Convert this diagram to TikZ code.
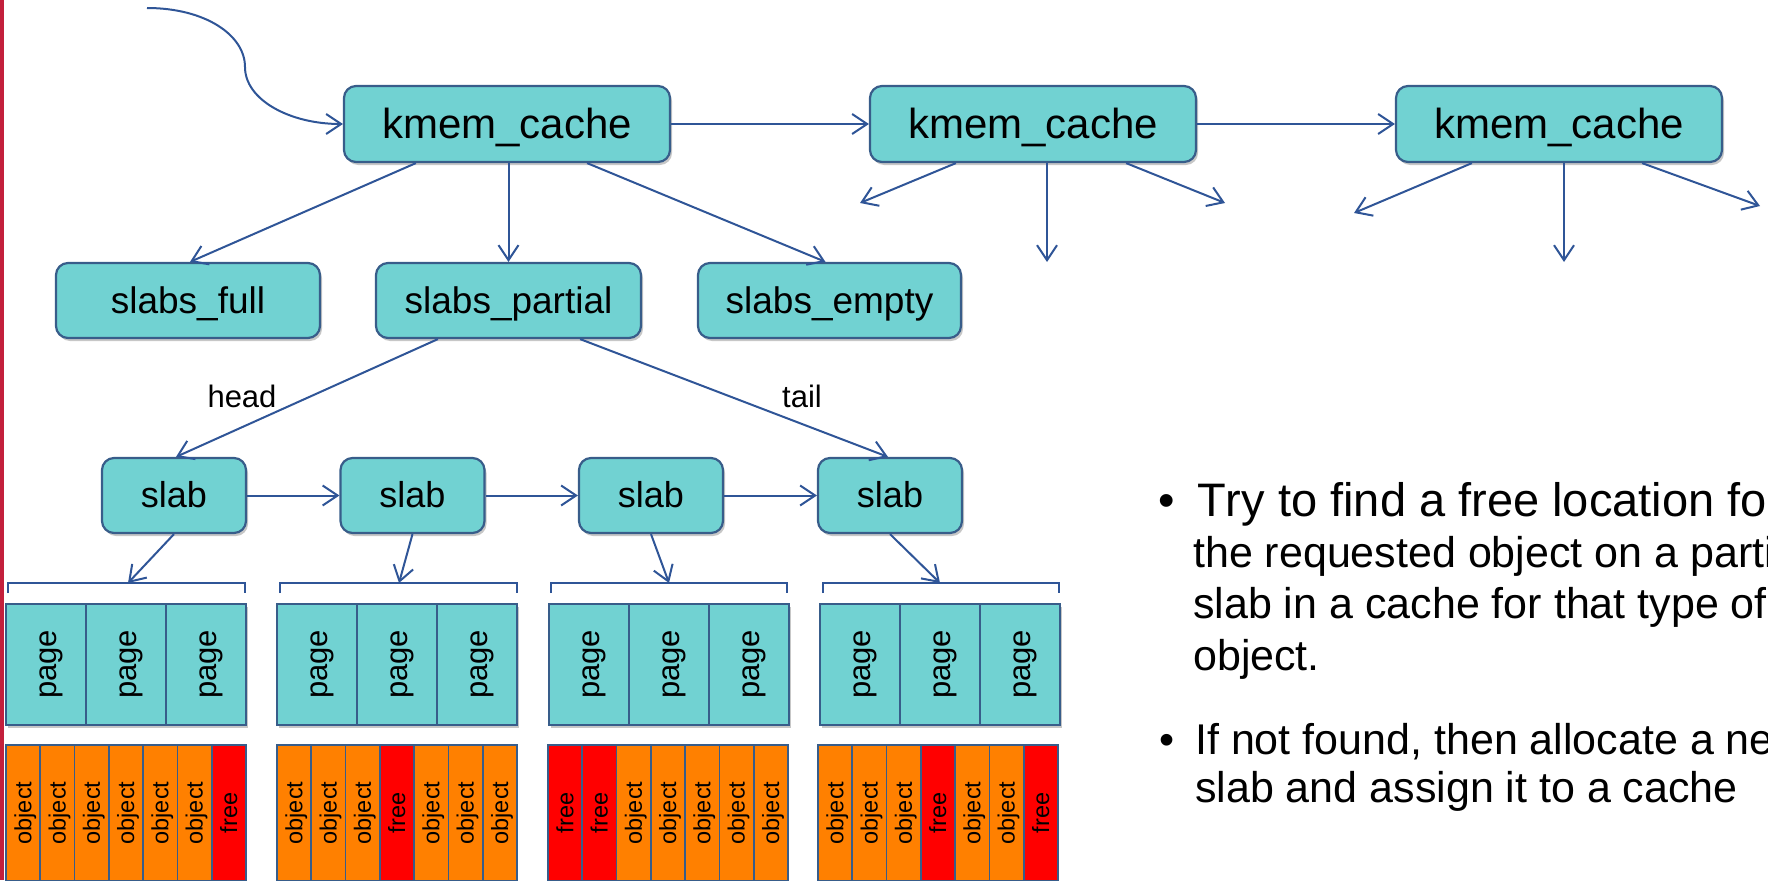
\documentclass[tikz,border=0pt]{standalone}
\usepackage{fontspec}
\setmainfont[Kerning=Off]{Liberation Sans}
\usepackage{graphicx}
\usetikzlibrary{arrows.meta,shadows,calc}
\definecolor{tealc}{HTML}{71D2D2}
\definecolor{bordc}{HTML}{385D8A}
\definecolor{linec}{HTML}{2F5597}
\definecolor{objc}{HTML}{FF8000}
\definecolor{freec}{HTML}{FF0000}
\definecolor{edgec}{HTML}{C3203C}
\newcommand\pstrut{\rule[-.212em]{0pt}{1.117em}}
\newcommand\fs[1]{\fontsize{#1}{#1}\selectfont}
\begin{document}
\begin{tikzpicture}[x=1pt,y=-1pt,
  shd/.style={drop shadow={shadow xshift=2pt,shadow yshift=-3pt,opacity=.22,fill=black}},
  box/.style={draw=bordc,line width=2.2pt,fill=tealc,rounded corners=12pt,inner sep=0pt,shd},
  kbox/.style={box,minimum width=326pt,minimum height=76pt,font=\fs{42}},
  lbox/.style={box,minimum height=75pt,font=\fs{37}},
  slabbox/.style={box,minimum width=144pt,minimum height=75pt,font=\fs{36}},
  pagecell/.style={draw=bordc,line width=2pt,fill=tealc,minimum width=80pt,minimum height=121pt,inner sep=0pt,font=\fs{31},shd},
  objcell/.style={draw=bordc,line width=1.8pt,fill=objc,minimum width=34.29pt,minimum height=136pt,inner sep=0pt,font=\fs{23.5}},
  freecell/.style={objcell,fill=freec},
  conn/.style={draw=linec,line width=2pt,-{Straight Barb[length=15pt,width=20pt]}},
  brk/.style={draw=linec,line width=1.6pt},
  lbl/.style={font=\fs{31},inner sep=0pt},
  btxt/.style={anchor=base west,inner sep=0pt},
]
\useasboundingbox (0,0) rectangle (1768,880);
\begin{scope}
\clip (0,0) rectangle (1768,880);
\fill[edgec] (0,0) rectangle (4,880);

% caches
\node[kbox] (k1) at (507,124) {\pstrut kmem\_cache};
\node[kbox] (k2) at (1033,124) {\pstrut kmem\_cache};
\node[kbox] (k3) at (1559,124) {\pstrut kmem\_cache};

% lists
\node[lbox,minimum width=264pt] (sfull) at (188,300.5) {\pstrut slabs\_full};
\node[lbox,minimum width=265pt] (spart) at (508.5,300.5) {\pstrut slabs\_partial};
\node[lbox,minimum width=263pt] (sempty) at (829.5,300.5) {\pstrut slabs\_empty};

% slabs
\node[slabbox] (s1) at (174,495.5) {\pstrut slab};
\node[slabbox] (s2) at (412.5,495.5) {\pstrut slab};
\node[slabbox] (s3) at (651,495.5) {\pstrut slab};
\node[slabbox] (s4) at (890,495.5) {\pstrut slab};

% incoming curve
\coordinate (cin) at (147,8);
\coordinate (cmid) at (245,67);
\draw[conn] (cin) .. controls (205,8) and (245,35) .. (cmid) .. controls (245,100) and (290,124) .. (k1.west);

\draw[conn] (k1.east) -- (k2.west);
\draw[conn] (k2.east) -- (k3.west);

\draw[conn] ([xshift=73pt]k1.south west) -- ([xshift=2pt]sfull.north);
\draw[conn] (k1.south -| spart.north) -- (spart.north);
\draw[conn] ([xshift=-84pt]k1.south east) -- ([xshift=-4pt]sempty.north);

\coordinate (k2a) at (860,203);
\coordinate (k2b) at (1047,262);
\coordinate (k2c) at (1225,203);
\draw[conn] ([xshift=87pt]k2.south west) -- (k2a);
\draw[conn] ([xshift=14pt]k2.south) -- (k2b);
\draw[conn] ([xshift=-71pt]k2.south east) -- (k2c);

\coordinate (k3a) at (1354,213);
\coordinate (k3b) at (1564,262);
\coordinate (k3c) at (1760,206);
\draw[conn] ([xshift=77pt]k3.south west) -- (k3a);
\draw[conn] ([xshift=5pt]k3.south) -- (k3b);
\draw[conn] ([xshift=-81pt]k3.south east) -- (k3c);

% head / tail
\draw[conn] ([xshift=63pt]spart.south west) -- ([xshift=2pt]s1.north);
\draw[conn] ([xshift=-62pt]spart.south east) -- ([xshift=-2pt]s4.north);
\node[lbl] (head) at (242,397) {\pstrut head};
\node[lbl] (tail) at (802,397) {\pstrut tail};

\draw[conn] (s1.east) -- (s2.west);
\draw[conn] (s2.east) -- (s3.west);
\draw[conn] (s3.east) -- (s4.west);

% brackets
\draw[brk] (8,593) -- (8,583) -- (245,583) -- (245,593);
\draw[brk] (280,593) -- (280,583) -- (517,583) -- (517,593);
\draw[brk] (551,593) -- (551,583) -- (787,583) -- (787,593);
\draw[brk] (823,593) -- (823,583) -- (1059,583) -- (1059,593);
\coordinate (b1) at (128,583);
\coordinate (b2) at (399,583);
\coordinate (b3) at (669,583);
\coordinate (b4) at (940,583);
\draw[conn] (s1.south) -- (b1);
\draw[conn] (s2.south) -- (b2);
\draw[conn] (s3.south) -- (b3);
\draw[conn] (s4.south) -- (b4);

% pages
\foreach \g/\gx in {1/6,2/277,3/549,4/820}{
  \foreach \i in {0,1,2}{
    \node[pagecell] (p\g\i) at (\gx+40+80*\i,664.5) {\rotatebox{90}{\pstrut page}};
  }
}

% objects
\foreach \g/\gx/\pat in {1/6/{0,0,0,0,0,0,1},2/277/{0,0,0,1,0,0,0},3/548/{1,1,0,0,0,0,0},4/818/{0,0,0,1,0,0,1}}{
  \foreach \c [count=\i from 0] in \pat {
    \ifnum\c=1
      \node[freecell] (o\g\i) at (\gx+17.14+34.29*\i,813) {\rotatebox{90}{\pstrut free}};
    \else
      \node[objcell] (o\g\i) at (\gx+17.14+34.29*\i,813) {\rotatebox{90}{\pstrut object}};
    \fi
  }
}

% bullet text
\node[btxt,font=\fs{47}] (d1) at (1158,516) {•};
\node[btxt,font=\fs{47}] (t11) at (1197,516) {Try to find a free location for};
\node[btxt,font=\fs{43}] (t12) at (1193,567.5) {the requested object on a partial};
\node[btxt,font=\fs{43}] (t13) at (1193,618.5) {slab in a cache for that type of};
\node[btxt,font=\fs{43}] (t14) at (1193,670) {object.};
\node[btxt,font=\fs{43}] (d2) at (1159,754) {•};
\node[btxt,font=\fs{43}] (t21) at (1195,754) {If not found, then allocate a new};
\node[btxt,font=\fs{43}] (t22) at (1195,802) {slab and assign it to a cache};
\end{scope}
\end{tikzpicture}
\end{document}
